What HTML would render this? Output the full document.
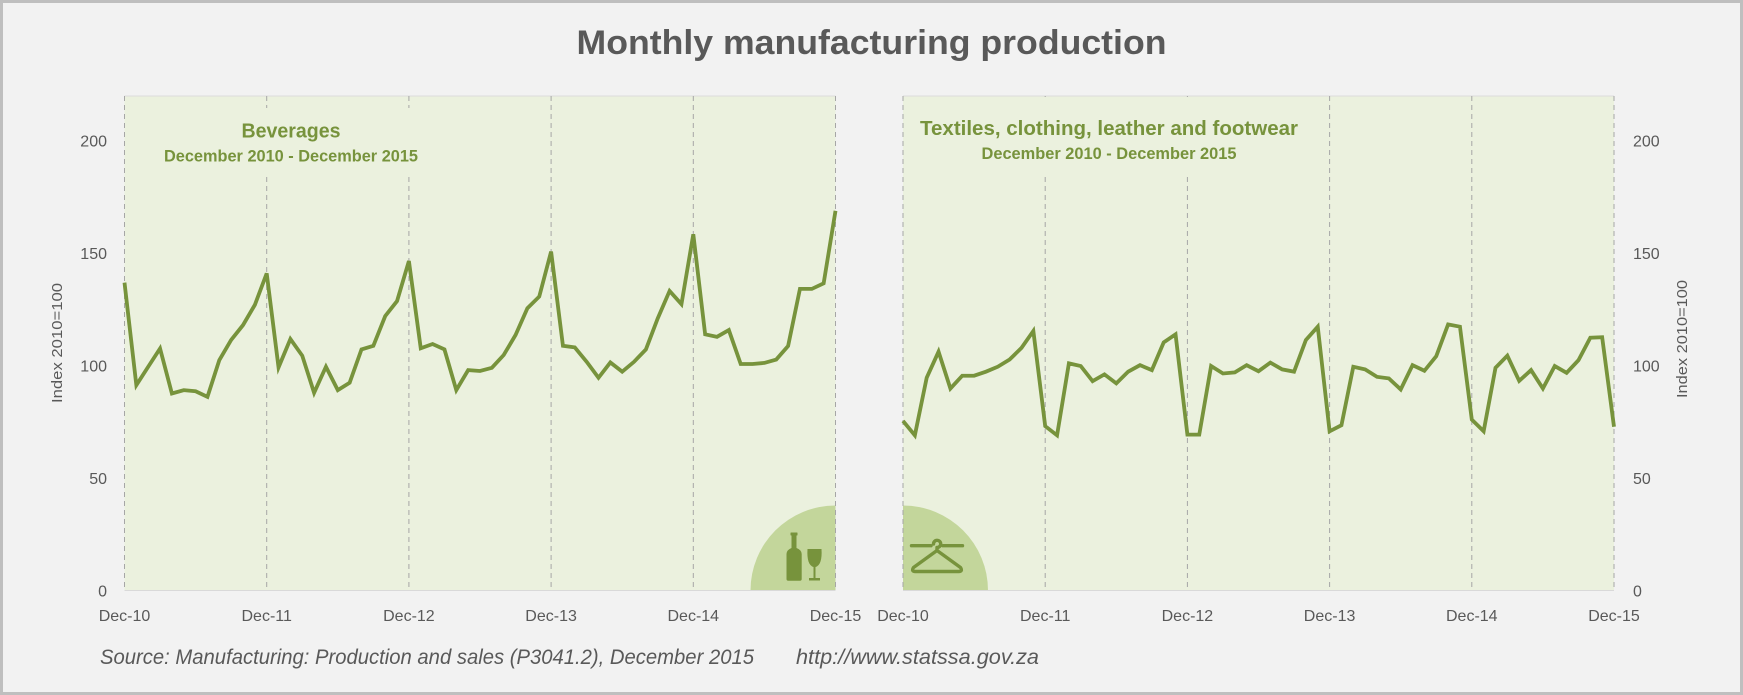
<!DOCTYPE html>
<html>
<head>
<meta charset="utf-8">
<style>
  html,body{margin:0;padding:0;background:#f2f2f2;}
  svg{display:block;}
  text{font-family:"Liberation Sans",sans-serif;}
</style>
</head>
<body>
<svg width="1743" height="695" viewBox="0 0 1743 695" xmlns="http://www.w3.org/2000/svg">
  <!-- background and frame -->
  <rect x="0" y="0" width="1743" height="695" fill="#f2f2f2"/>
  <rect x="1.5" y="1.5" width="1740" height="692" fill="none" stroke="#bfbfbf" stroke-width="3"/>

  <!-- title -->
  <text x="871.5" y="54" text-anchor="middle" font-size="34" font-weight="bold" fill="#595959" textLength="590" lengthAdjust="spacingAndGlyphs">Monthly manufacturing production</text>

  <!-- plot areas -->
  <rect x="124.5" y="95.6" width="711" height="494.9" fill="#ebf1de"/>
  <rect x="903" y="95.6" width="711" height="494.9" fill="#ebf1de"/>
  <line x1="124.5" y1="96" x2="835.5" y2="96" stroke="#dcdcdc" stroke-width="1"/>
  <line x1="903" y1="96" x2="1614" y2="96" stroke="#dcdcdc" stroke-width="1"/>

  <!-- quarter circles -->
  <path d="M835.5,590.5 L750.5,590.5 A85,85 0 0 1 835.5,505.5 Z" fill="#c3d69b"/>
  <path d="M903,590.5 L988,590.5 A85,85 0 0 0 903,505.5 Z" fill="#c3d69b"/>

  <!-- gridlines -->
  <g stroke="#a6a6a6" stroke-width="1" stroke-dasharray="5,4" fill="none">
    <line x1="124.5" y1="96" x2="124.5" y2="590.5"/>
    <line x1="266.7" y1="96" x2="266.7" y2="590.5"/>
    <line x1="408.9" y1="96" x2="408.9" y2="590.5"/>
    <line x1="551.1" y1="96" x2="551.1" y2="590.5"/>
    <line x1="693.3" y1="96" x2="693.3" y2="590.5"/>
    <line x1="835.5" y1="96" x2="835.5" y2="590.5"/>
    <line x1="903" y1="96" x2="903" y2="590.5"/>
    <line x1="1045.2" y1="96" x2="1045.2" y2="590.5"/>
    <line x1="1187.4" y1="96" x2="1187.4" y2="590.5"/>
    <line x1="1329.6" y1="96" x2="1329.6" y2="590.5"/>
    <line x1="1471.8" y1="96" x2="1471.8" y2="590.5"/>
    <line x1="1614" y1="96" x2="1614" y2="590.5"/>
  </g>
  <!-- subtitle boxes hiding gridlines -->
  <rect x="150" y="108" width="280" height="65" fill="#ebf1de"/>
  <rect x="915" y="97" width="390" height="78" fill="#ebf1de"/>

  <!-- zero axis lines -->
  <line x1="124.5" y1="590.5" x2="835.5" y2="590.5" stroke="#d9d9d9" stroke-width="1"/>
  <line x1="903" y1="590.5" x2="1614" y2="590.5" stroke="#d9d9d9" stroke-width="1"/>

  <!-- subtitles -->
  <text x="291" y="137.3" text-anchor="middle" font-size="20" font-weight="bold" fill="#77933c" textLength="99" lengthAdjust="spacingAndGlyphs">Beverages</text>
  <text x="291" y="161.7" text-anchor="middle" font-size="17" font-weight="bold" fill="#77933c" textLength="254" lengthAdjust="spacingAndGlyphs">December 2010 - December 2015</text>
  <text x="1109" y="135" text-anchor="middle" font-size="20" font-weight="bold" fill="#77933c" textLength="378" lengthAdjust="spacingAndGlyphs">Textiles, clothing, leather and footwear</text>
  <text x="1109" y="159" text-anchor="middle" font-size="17" font-weight="bold" fill="#77933c" textLength="255" lengthAdjust="spacingAndGlyphs">December 2010 - December 2015</text>

  <!-- series: beverages -->
  <g transform="translate(124.5,590.5) scale(11.85,-2.249)">
    <polyline fill="none" stroke="#77933c" stroke-width="3.8" stroke-linejoin="miter" vector-effect="non-scaling-stroke"
      points="0,136.9 1,91.3 2,99.5 3,107.6 4,87.6 5,89.1 6,88.6 7,86.1 8,102.4 9,111.4 10,118 11,127 12,141 13,99.2 14,111.8 15,104.4 16,87.9 17,99.5 18,89.1 19,92.4 20,107.2 21,108.8 22,122 23,128.7 24,146.5 25,107.7 26,109.6 27,107.2 28,89.1 29,98 30,97.6 31,99 32,104.7 33,113.6 34,125.5 35,130.7 36,150.7 37,108.8 38,108.1 39,101.7 40,94.6 41,101.4 42,97.3 43,101.7 44,107.2 45,121 46,133.2 47,127.3 48,158.4 49,113.9 50,112.8 51,115.8 52,100.7 53,100.7 54,101.2 55,102.7 56,108.7 57,134.1 58,134.1 59,136.6 60,168.8"/>
  </g>
  <!-- series: textiles -->
  <g transform="translate(903,590.5) scale(11.85,-2.249)">
    <polyline fill="none" stroke="#77933c" stroke-width="3.8" stroke-linejoin="miter" vector-effect="non-scaling-stroke"
      points="0,75.4 1,69 2,94.6 3,106.2 4,89.8 5,95.5 6,95.5 7,97.3 8,99.5 9,102.7 10,107.9 11,115.4 12,73.1 13,69 14,101 15,99.8 16,93.1 17,96.1 18,92.1 19,97.3 20,100.2 21,98 22,110.3 23,113.9 24,69.3 25,69.3 26,99.8 27,96.5 28,97 29,100.2 30,97.5 31,101.3 32,98.3 33,97.3 34,111.4 35,117.3 36,70.8 37,73.5 38,99.5 39,98.3 40,95 41,94.3 42,89.4 43,100.2 44,97.7 45,104.2 46,118.3 47,117.3 48,76 49,70.8 50,99 51,104.4 52,93.2 53,98 54,89.8 55,99.8 56,96.8 57,102.4 58,112.4 59,112.6 60,72.8"/>
  </g>

  <!-- bottle & glass icon -->
  <g fill="#77933c">
    <rect x="790.5" y="532.5" width="7" height="3" rx="0.5"/>
    <path d="M791.5,535 h5 v13 q5.2,2 5.2,6 v25 q0,1.7 -1.7,1.7 h-11.8 q-1.7,0 -1.7,-1.7 v-25 q0,-4 5,-6 Z"/>
    <path d="M807.5,549 L821.5,549 Q822.5,565 815.5,567 L815.5,578 L820,578 L820,580.5 L809,580.5 L809,578 L813.5,578 L813.5,567 Q806.5,565 807.5,549 Z"/>
  </g>
  <!-- hanger icon -->
  <g stroke="#77933c" fill="none" stroke-width="3.4" stroke-linecap="round" stroke-linejoin="round">
    <line x1="911.5" y1="545.7" x2="931" y2="545.7"/>
    <line x1="943" y1="545.7" x2="962.5" y2="545.7"/>
    <path d="M933.5,544 A3.6,3.6 0 1 1 937,547.5 L937,550"/>
    <path d="M937,550.5 L913.5,567.5 Q911,571.5 915.5,571.5 L958.5,571.5 Q963,571.5 960.5,567.5 Z"/>
  </g>

  <!-- left y-axis labels -->
  <g font-size="16" fill="#595959" text-anchor="end">
    <text x="107" y="146.5">200</text>
    <text x="107" y="259">150</text>
    <text x="107" y="371.5">100</text>
    <text x="107" y="484">50</text>
    <text x="107" y="596.5">0</text>
  </g>
  <!-- right y-axis labels -->
  <g font-size="16" fill="#595959" text-anchor="start">
    <text x="1633" y="146.5">200</text>
    <text x="1633" y="259">150</text>
    <text x="1633" y="371.5">100</text>
    <text x="1633" y="484">50</text>
    <text x="1633" y="596.5">0</text>
  </g>

  <!-- y-axis titles -->
  <text transform="translate(62,343) rotate(-90)" x="0" y="0" text-anchor="middle" font-size="15" fill="#595959" textLength="120" lengthAdjust="spacingAndGlyphs">Index 2010=100</text>
  <text transform="translate(1687,339) rotate(-90)" x="0" y="0" text-anchor="middle" font-size="15" fill="#595959" textLength="118" lengthAdjust="spacingAndGlyphs">Index 2010=100</text>

  <!-- x-axis labels -->
  <g font-size="16" fill="#595959" text-anchor="middle">
    <text x="124.5" y="621">Dec-10</text>
    <text x="266.7" y="621">Dec-11</text>
    <text x="408.9" y="621">Dec-12</text>
    <text x="551.1" y="621">Dec-13</text>
    <text x="693.3" y="621">Dec-14</text>
    <text x="835.5" y="621">Dec-15</text>
    <text x="903" y="621">Dec-10</text>
    <text x="1045.2" y="621">Dec-11</text>
    <text x="1187.4" y="621">Dec-12</text>
    <text x="1329.6" y="621">Dec-13</text>
    <text x="1471.8" y="621">Dec-14</text>
    <text x="1614" y="621">Dec-15</text>
  </g>

  <!-- source -->
  <text x="100" y="664" font-size="21" font-style="italic" fill="#595959" textLength="654" lengthAdjust="spacingAndGlyphs">Source: Manufacturing: Production and sales (P3041.2), December 2015</text>
  <text x="796" y="664" font-size="21" font-style="italic" fill="#595959" textLength="243" lengthAdjust="spacingAndGlyphs">http://www.statssa.gov.za</text>
</svg>
</body>
</html>
